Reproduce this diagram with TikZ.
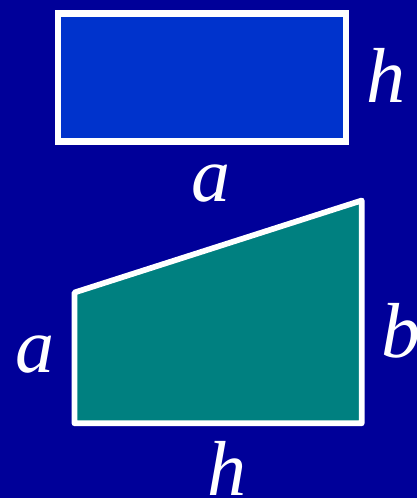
\documentclass[tikz,border=0pt]{standalone}
\usepackage{fontspec}
\setmainfont{Liberation Serif}
\definecolor{bgblue}{HTML}{000099}
\definecolor{rectblue}{HTML}{0033CC}
\definecolor{tealfill}{HTML}{008080}
\begin{document}
\begin{tikzpicture}[x=1pt,y=-1pt,
  lbl/.style={text=white,inner sep=0pt,anchor=base,font=\fontsize{78}{78}\selectfont\itshape},
  shapeline/.style={draw=white}]
\fill[bgblue] (0,0) rectangle (417,498);
\useasboundingbox (0,0) rectangle (417,498);
% rectangle
\coordinate (r1) at (57.8,13.5);
\coordinate (r2) at (346,141.3);
\filldraw[shapeline,fill=rectblue,line width=6.5pt,line join=miter] (r1) rectangle (r2);
% trapezoid
\coordinate (t1) at (74.5,292.5);
\coordinate (t2) at (361.7,200.5);
\coordinate (t3) at (361.7,423.3);
\coordinate (t4) at (74.5,423.3);
\filldraw[shapeline,fill=tealfill,line width=5.7pt,line join=round] (t1) -- (t2) -- (t3) -- (t4) -- cycle;
% labels
\node[lbl] (hr) at (386,102) {h};
\node[lbl] (ar) at (211,201) {a};
\node[lbl] (at) at (35,372) {a};
\node[lbl] (bt) at (401,357.5) {b};
\node[lbl] (ht) at (227,495.5) {h};
\end{tikzpicture}
\end{document}
